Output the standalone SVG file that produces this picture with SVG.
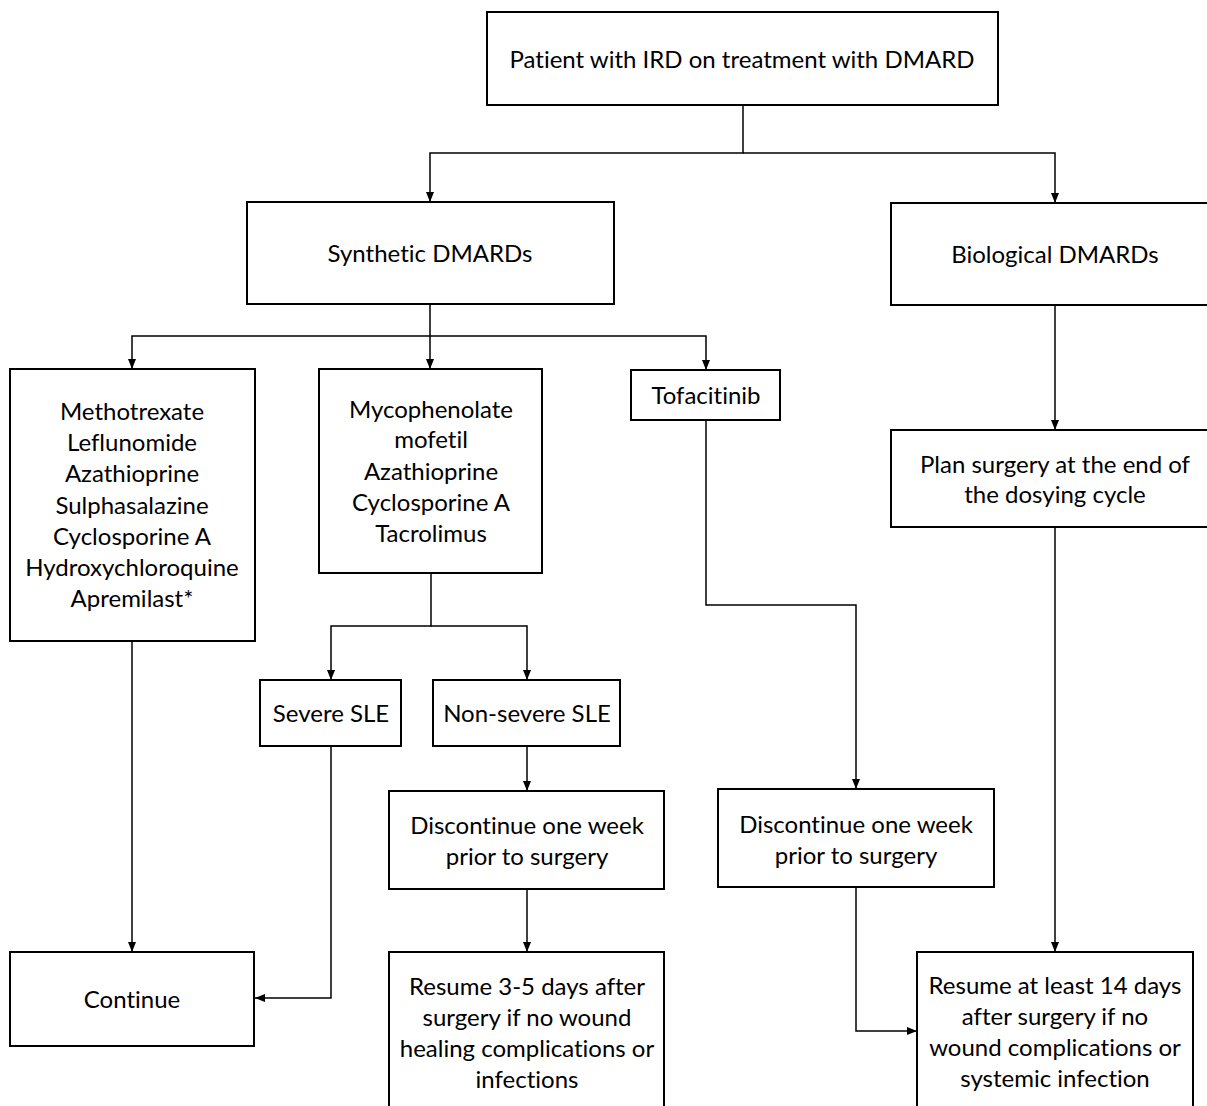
<svg xmlns="http://www.w3.org/2000/svg" width="1207" height="1106" viewBox="0 0 1207 1106">
<style>
.box{fill:#fff;stroke:#000;stroke-width:2}
.t{font-family:Lato,"Open Sans",sans-serif;font-size:24px;fill:#000;text-anchor:middle;font-variant-ligatures:none}
.c{fill:none;stroke:#000;stroke-width:1.5}
</style>
<defs>
<marker id="ah" markerUnits="userSpaceOnUse" markerWidth="10" markerHeight="10" viewBox="0 0 10 10" refX="10" refY="5" orient="auto">
<path d="M0,1 L10,5 L0,9 Z" fill="#000"/>
</marker>
</defs>
<rect width="1207" height="1106" fill="#fff"/>
<g id="connectors">
<path class="c" d="M743,105 V153 H430 V202" marker-end="url(#ah)"/>
<path class="c" d="M743,153 H1055 V203" marker-end="url(#ah)"/>
<path class="c" d="M430,304 V336 H132 V369" marker-end="url(#ah)"/>
<path class="c" d="M430,336 V369" marker-end="url(#ah)"/>
<path class="c" d="M430,336 H706 V370" marker-end="url(#ah)"/>
<path class="c" d="M1055,305 V430" marker-end="url(#ah)"/>
<path class="c" d="M706,420 V605 H856 V789" marker-end="url(#ah)"/>
<path class="c" d="M1055,527 V952" marker-end="url(#ah)"/>
<path class="c" d="M431,573 V626 H331 V680" marker-end="url(#ah)"/>
<path class="c" d="M431,626 H527 V680" marker-end="url(#ah)"/>
<path class="c" d="M527,746 V791" marker-end="url(#ah)"/>
<path class="c" d="M527,889 V952" marker-end="url(#ah)"/>
<path class="c" d="M331,746 V998 H255" marker-end="url(#ah)"/>
<path class="c" d="M132,641 V952" marker-end="url(#ah)"/>
<path class="c" d="M856,887 V1031 H917" marker-end="url(#ah)"/>
</g>
<g id="n-patient"><rect class="box" x="487" y="12" width="511" height="93"/><text class="t" x="742" y="68">Patient with IRD on treatment with DMARD</text></g>
<g id="n-synthetic"><rect class="box" x="247" y="202" width="367" height="102"/><text class="t" x="430" y="262">Synthetic DMARDs</text></g>
<g id="n-biological"><rect class="box" x="891" y="203" width="320" height="102"/><text class="t" x="1055" y="263">Biological DMARDs</text></g>
<g id="n-methotrexate"><rect class="box" x="10" y="369" width="245" height="272"/>
<text class="t" x="132" y="420">Methotrexate</text><text class="t" x="132" y="451">Leflunomide</text><text class="t" x="132" y="482">Azathioprine</text><text class="t" x="132" y="514">Sulphasalazine</text><text class="t" x="132" y="545">Cyclosporine A</text><text class="t" x="132" y="576">Hydroxychloroquine</text><text class="t" x="132" y="607">Apremilast*</text></g>
<g id="n-mycophenolate"><rect class="box" x="319" y="369" width="223" height="204"/>
<text class="t" x="431" y="418">Mycophenolate</text><text class="t" x="431" y="448">mofetil</text><text class="t" x="431" y="480">Azathioprine</text><text class="t" x="431" y="511">Cyclosporine A</text><text class="t" x="431" y="542">Tacrolimus</text></g>
<g id="n-tofacitinib"><rect class="box" x="631" y="370" width="149" height="50"/><text class="t" x="706" y="404">Tofacitinib</text></g>
<g id="n-plan"><rect class="box" x="891" y="430" width="320" height="97"/><text class="t" x="1055" y="473">Plan surgery at the end of</text><text class="t" x="1055" y="503">the dosying cycle</text></g>
<g id="n-severe"><rect class="box" x="260" y="680" width="141" height="66"/><text class="t" x="331" y="722">Severe SLE</text></g>
<g id="n-nonsevere"><rect class="box" x="433" y="680" width="187" height="66"/><text class="t" x="527" y="722">Non-severe SLE</text></g>
<g id="n-discontinue1"><rect class="box" x="389" y="791" width="275" height="98"/><text class="t" x="527" y="834">Discontinue one week</text><text class="t" x="527" y="865">prior to surgery</text></g>
<g id="n-discontinue2"><rect class="box" x="718" y="789" width="276" height="98"/><text class="t" x="856" y="833">Discontinue one week</text><text class="t" x="856" y="864">prior to surgery</text></g>
<g id="n-continue"><rect class="box" x="10" y="952" width="244" height="94"/><text class="t" x="132" y="1008">Continue</text></g>
<g id="n-resume1"><rect class="box" x="389" y="952" width="275" height="170"/><text class="t" x="527" y="995">Resume 3-5 days after</text><text class="t" x="527" y="1026">surgery if no wound</text><text class="t" x="527" y="1057">healing complications or</text><text class="t" x="527" y="1088">infections</text></g>
<g id="n-resume2"><rect class="box" x="917" y="952" width="276" height="170"/><text class="t" x="1055" y="994">Resume at least 14 days</text><text class="t" x="1055" y="1025">after surgery if no</text><text class="t" x="1055" y="1056">wound complications or</text><text class="t" x="1055" y="1087">systemic infection</text></g>
</svg>
